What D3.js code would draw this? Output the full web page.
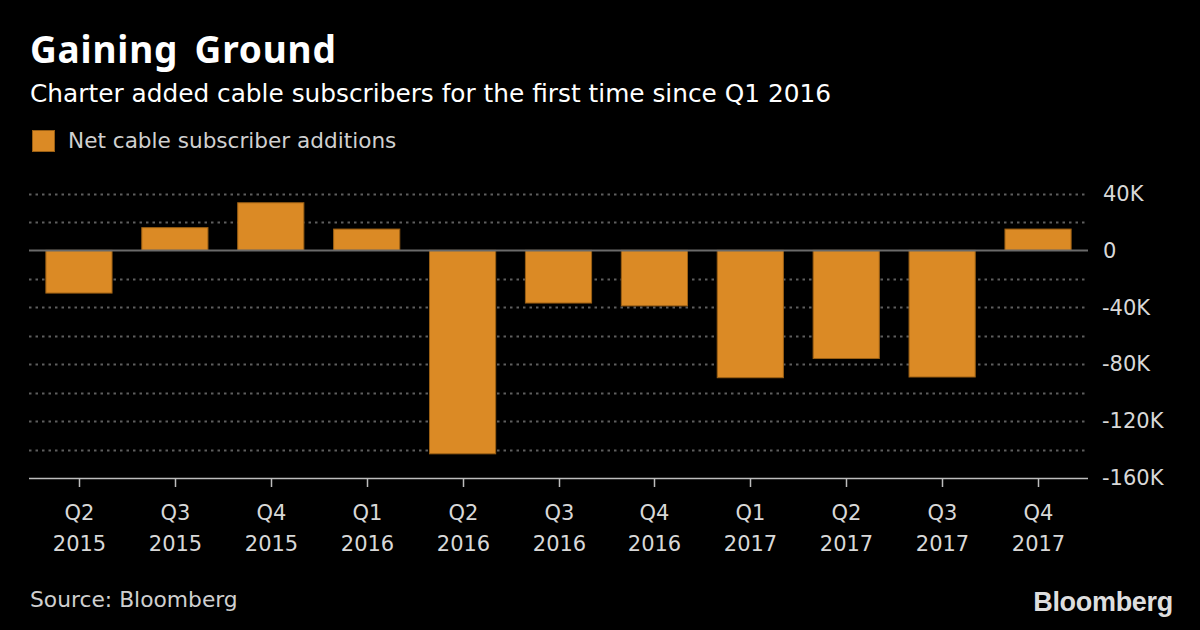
<!DOCTYPE html>
<html>
<head>
<meta charset="utf-8">
<script src="https://cdn.jsdelivr.net/npm/d3@7"></script>
<style>
  html, body { margin: 0; padding: 0; background: #000; }
  svg { display: block; }
  text { font-family: "DejaVu Sans", "Noto Sans", sans-serif; }
</style>
</head>
<body>
<svg id="chart" width="1200" height="630"></svg>
<script>
const quarters = ["Q2", "Q3", "Q4", "Q1", "Q2", "Q3", "Q4", "Q1", "Q2", "Q3", "Q4"];
const years = ["2015", "2015", "2015", "2016", "2016", "2016", "2016", "2017", "2017", "2017", "2017"];
const netAdds = [-30, 16, 33.5, 15, -143, -37, -39, -89.5, -76, -89, 15]; // thousands
const yTicks = [40, 0, -40, -80, -120, -160];
const gridTicks = [40, 20, 0, -20, -40, -60, -80, -100, -120, -140, -160];

const W = 1200, H = 630;
const svg = d3.select("#chart");
svg.append("rect").attr("width", W).attr("height", H).attr("fill", "#000");

const plotLeft = 29, plotRight = 1088;
const x = d3.scaleBand()
  .domain(d3.range(netAdds.length))
  .range([31, 1086])
  .paddingInner(0.31)
  .paddingOuter(0.155);
const y = d3.scaleLinear().domain([-160, 40]).range([478, 193.5]);

// Title
svg.append("text").attr("x", 30).attr("y", 63)
  .attr("fill", "#fff").attr("font-size", 37).attr("font-weight", "bold")
  .style("font-family", '"Noto Sans", sans-serif')
  .attr("letter-spacing", 0.8).attr("word-spacing", 6)
  .text("Gaining Ground");
svg.append("text").attr("x", 30).attr("y", 102)
  .attr("fill", "#fff").attr("font-size", 24.8)
  .text("Charter added cable subscribers for the first time since Q1 2016");

// Legend
svg.append("rect").attr("x", 32.5).attr("y", 130.5).attr("width", 22).attr("height", 21)
  .attr("fill", "#DB8A25").attr("stroke", "#9a5f14").attr("stroke-width", 1);
svg.append("text").attr("x", 68).attr("y", 148)
  .attr("fill", "#d0d0d0").attr("font-size", 21.6)
  .text("Net cable subscriber additions");

// Gridlines
svg.append("g").selectAll("line")
  .data(gridTicks.filter(d => d !== 0 && d !== -160))
  .join("line")
  .attr("x1", plotLeft).attr("x2", plotRight)
  .attr("y1", d => Math.round(y(d)) + 0.5).attr("y2", d => Math.round(y(d)) + 0.5)
  .attr("stroke", "#5e5e5e").attr("stroke-width", 2)
  .attr("stroke-dasharray", "2.5,4");

// Bars
svg.append("g").selectAll("rect")
  .data(netAdds)
  .join("rect")
  .attr("x", (d, i) => x(i))
  .attr("width", x.bandwidth())
  .attr("y", d => y(Math.max(0, d)))
  .attr("height", d => Math.abs(y(d) - y(0)))
  .attr("fill", "#DB8A25")
  .attr("stroke", "#9a5f14").attr("stroke-width", 1);

// Zero line
svg.append("line")
  .attr("x1", plotLeft).attr("x2", plotRight)
  .attr("y1", y(0)).attr("y2", y(0))
  .attr("stroke", "#6a6a6a").attr("stroke-width", 2);

// Right axis labels
const yAxis = d3.axisRight(y).tickValues(yTicks).tickSize(0).tickPadding(0)
  .tickFormat(d => d === 0 ? "0" : d + "K");
const yg = svg.append("g").attr("transform", `translate(1102,0)`).call(yAxis);
yg.select(".domain").remove();
yg.selectAll("text").attr("fill", "#d8d8d8").attr("font-size", 21)
  .style("font-family", '"DejaVu Sans", sans-serif').attr("x", d => d < 0 ? 0 : 1);

// Bottom axis
svg.append("line")
  .attr("x1", plotLeft).attr("x2", plotRight)
  .attr("y1", 478.5).attr("y2", 478.5)
  .attr("stroke", "#bdbdbd").attr("stroke-width", 1.5);
const xTickG = svg.append("g").selectAll("g")
  .data(netAdds.map((d, i) => i))
  .join("g")
  .attr("transform", i => `translate(${Math.round(x(i) + x.bandwidth() / 2) + 0.5},0)`);
xTickG.append("line").attr("y1", 478).attr("y2", 487)
  .attr("stroke", "#bdbdbd").attr("stroke-width", 1.5);
xTickG.append("text").attr("y", 520).attr("text-anchor", "middle")
  .attr("fill", "#d8d8d8").attr("font-size", 21)
  .text(i => quarters[i]);
xTickG.append("text").attr("y", 551).attr("text-anchor", "middle")
  .attr("fill", "#d8d8d8").attr("font-size", 21)
  .text(i => years[i]);

// Footer
svg.append("text").attr("x", 30).attr("y", 607)
  .attr("fill", "#cfcfcf").attr("font-size", 21.8)
  .text("Source: Bloomberg");
svg.append("text").attr("x", 1173).attr("y", 611).attr("text-anchor", "end")
  .attr("fill", "#dedede").attr("font-size", 27).attr("font-weight", "bold")
  .style("font-family", '"Liberation Sans", Arial, sans-serif')
  .attr("letter-spacing", "-0.3")
  .text("Bloomberg");
</script>
</body>
</html>
